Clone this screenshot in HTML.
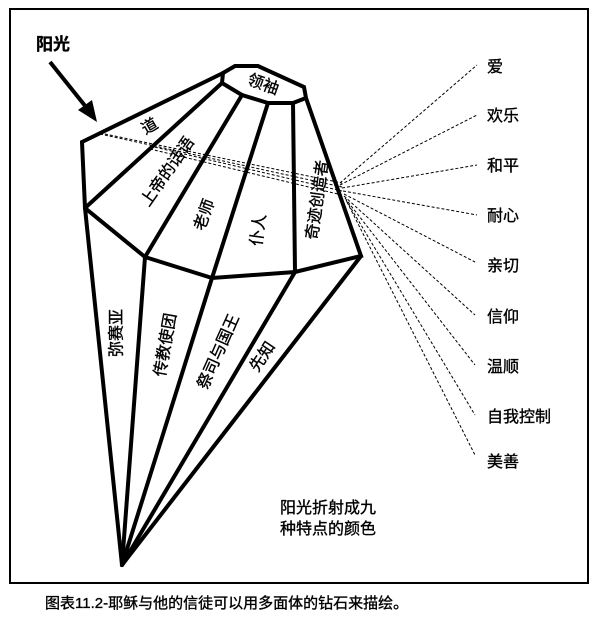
<!DOCTYPE html>
<html><head><meta charset="utf-8"><style>
html,body{margin:0;padding:0;background:#fff;}
svg text{font-family:"Liberation Sans","Noto Sans CJK SC",sans-serif;fill:#000;stroke:#000;stroke-width:0.35;}
</style></head><body>
<svg width="600" height="618" viewBox="0 0 600 618" xmlns="http://www.w3.org/2000/svg">
<rect x="10" y="9" width="578" height="574" fill="none" stroke="#000" stroke-width="2"/>
<g stroke="#000" stroke-width="1" stroke-dasharray="3,2" fill="none">
<line x1="100" y1="133" x2="342" y2="183"/>
<line x1="100" y1="134" x2="342" y2="187"/>
<line x1="150" y1="146" x2="342" y2="191"/>
<line x1="150" y1="149" x2="342" y2="195"/>
<line x1="340" y1="183" x2="477" y2="65"/>
<line x1="340" y1="185" x2="477" y2="115"/>
<line x1="342" y1="188" x2="477" y2="165"/>
<line x1="343" y1="191" x2="477" y2="215"/>
<line x1="344" y1="194" x2="475" y2="262"/>
<line x1="344" y1="196" x2="475" y2="315"/>
<line x1="345" y1="198" x2="475" y2="365"/>
<line x1="346" y1="200" x2="475" y2="415"/>
<line x1="347" y1="202" x2="475" y2="455"/>
</g>
<g stroke="#000" stroke-width="4" fill="none" stroke-linejoin="miter" stroke-linecap="round">
<polygon points="223,73 235,66 258,66 304,87 306,98 293,103 268,103 242,95 222,83"/>
<polyline points="82,142 223,73"/>
<polyline points="82,142 85,208 145,257 212,278 295,272 361,256 306,98"/>
<line x1="85" y1="208" x2="222" y2="83"/>
<line x1="145" y1="257" x2="242" y2="95"/>
<line x1="212" y1="278" x2="268" y2="103"/>
<line x1="295" y1="272" x2="293" y2="103"/>
<line x1="122" y1="565" x2="85" y2="208"/>
<line x1="122" y1="565" x2="145" y2="257"/>
<line x1="122" y1="565" x2="212" y2="278"/>
<line x1="122" y1="565" x2="295" y2="272"/>
<line x1="122" y1="565" x2="361" y2="256"/>
</g>
<line x1="50" y1="62" x2="90" y2="112" stroke="#000" stroke-width="4"/>
<polygon points="97,122 78,110 92,100" fill="#000"/>
<text x="36" y="50" font-size="17" font-weight="bold">阳光</text>
<g font-size="16" text-anchor="middle" dominant-baseline="central">
<text transform="translate(263,85) rotate(20)">领袖</text>
<text transform="translate(150,127) rotate(-30)">道</text>
<text transform="translate(168,172) rotate(-55)">上帝的话语</text>
<text transform="translate(205,215) rotate(-70)">老师</text>
<text transform="translate(259,230) rotate(-82)">仆人</text>
<text transform="translate(318,200) rotate(-82)">奇迹创造者</text>
<text transform="translate(117,333) rotate(-90)">弥赛亚</text>
<text transform="translate(166,345) rotate(-80)">传教使团</text>
<text transform="translate(219,352) rotate(-66)">祭司与国王</text>
<text transform="translate(263,357) rotate(-56)">先知</text>
</g>
<g font-size="16">
<text x="487" y="72">爱</text>
<text x="487" y="121">欢乐</text>
<text x="487" y="171">和平</text>
<text x="487" y="221">耐心</text>
<text x="487" y="271">亲切</text>
<text x="487" y="322">信仰</text>
<text x="487" y="372">温顺</text>
<text x="487" y="422">自我控制</text>
<text x="487" y="467">美善</text>
<text x="280" y="513">阳光折射成九</text>
<text x="280" y="534">种特点的颜色</text>
</g>
<text x="45" y="608" font-size="15">图表11.2-耶稣与他的信徒可以用多面体的钻石来描绘。</text>
</svg>
</body></html>
